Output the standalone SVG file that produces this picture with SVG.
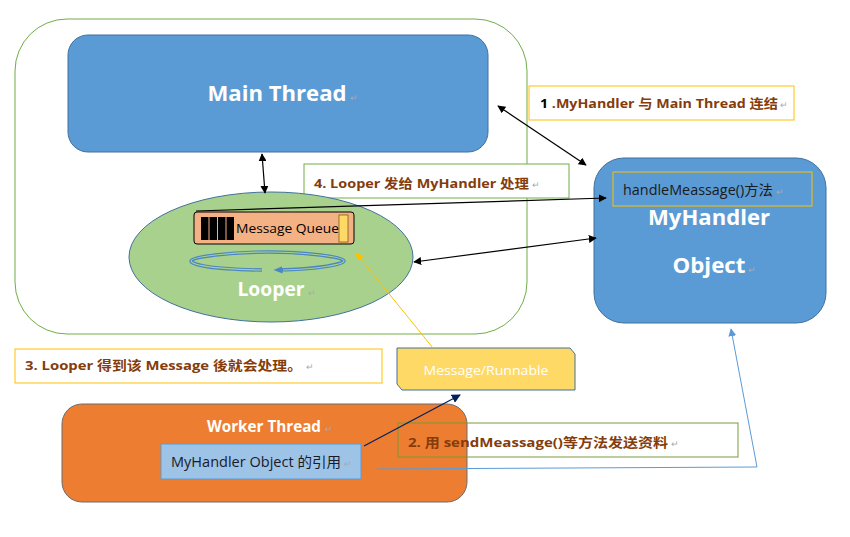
<svg xmlns="http://www.w3.org/2000/svg" width="850" height="537" viewBox="0 0 850 537">
<defs>
<style>
text{font-family:"Open Sans","Noto Sans CJK SC",sans-serif}
.lbl{font-size:13px;font-weight:bold;fill:#843C0C}
.big{font-size:22px;font-weight:bold;fill:#fff;text-anchor:middle}
.rm{font-size:9px;fill:#aaa}
.conn{fill:none;stroke:#000;stroke-width:1.2}
</style>
<marker id="ah" viewBox="0 0 10 10" refX="9" refY="5" markerWidth="8" markerHeight="8" orient="auto-start-reverse" markerUnits="userSpaceOnUse"><path d="M0,0 L10,5 L0,10 z" fill="#000"/></marker>
<marker id="ahn" viewBox="0 0 10 10" refX="9" refY="5" markerWidth="9" markerHeight="9" orient="auto" markerUnits="userSpaceOnUse"><path d="M0,0 L10,5 L0,10 z" fill="#002060"/></marker>
<marker id="ahy" viewBox="0 0 10 10" refX="9" refY="5" markerWidth="8" markerHeight="8" orient="auto" markerUnits="userSpaceOnUse"><path d="M0,0 L10,5 L0,10 z" fill="#FFC000"/></marker>
<marker id="ahb" viewBox="0 0 10 10" refX="9" refY="5" markerWidth="8" markerHeight="8" orient="auto" markerUnits="userSpaceOnUse"><path d="M0,0 L10,5 L0,10 z" fill="#5B9BD5"/></marker>
<marker id="ahl" viewBox="0 0 10 10" refX="5" refY="5" markerWidth="9" markerHeight="9" orient="auto" markerUnits="userSpaceOnUse"><path d="M0,1 L10,5 L0,9 z" fill="#4A86C5"/></marker>
</defs>
<rect width="850" height="537" fill="#fff"/>

<g id="container">
<rect x="15" y="19" width="512" height="315" rx="52" fill="none" stroke="#70AD47" stroke-width="1"/>
</g>

<g id="main-thread">
<rect x="68" y="35" width="420" height="117" rx="20" fill="#5B9BD5" stroke="#41719C" stroke-width="1"/>
<text x="277" y="101" class="big" textLength="139" lengthAdjust="spacingAndGlyphs">Main Thread</text>
<text x="350" y="101" class="rm">↵</text>
</g>

<g id="label1">
<rect x="529" y="86" width="265" height="34" fill="#fff" stroke="#FFC000" stroke-width="1"/>
<text x="540" y="108" class="lbl" textLength="238" lengthAdjust="spacingAndGlyphs"><tspan fill="#000">1</tspan> .MyHandler 与 Main Thread  连结</text>
<text x="780" y="108" class="rm">↵</text>
</g>

<g id="myhandler">
<rect x="594" y="158" width="232" height="165" rx="30" fill="#5B9BD5" stroke="#41719C" stroke-width="1"/>
<rect x="613" y="172" width="199" height="34" fill="#5B9BD5" stroke="#FFC000" stroke-width="1"/>
<text x="623" y="195" style="font-size:14px;fill:#1a1a1a" textLength="150" lengthAdjust="spacingAndGlyphs">handleMeassage()方法</text>
<text x="776" y="195" class="rm">↵</text>
<text x="709" y="225" class="big" textLength="122" lengthAdjust="spacingAndGlyphs">MyHandler</text>
<text x="709" y="273" class="big" textLength="73" lengthAdjust="spacingAndGlyphs">Object</text>
<text x="748" y="273" class="rm">↵</text>
</g>

<g id="label4">
<rect x="304" y="164" width="265" height="34" fill="#fff" stroke="#70AD47" stroke-width="1"/>
<text x="314" y="188" class="lbl" textLength="215" lengthAdjust="spacingAndGlyphs">4. Looper 发给 MyHandler  处理</text>
<text x="532" y="188" class="rm">↵</text>
</g>

<g id="looper">
<ellipse cx="271" cy="257" rx="142" ry="65" fill="#A9D18E" stroke="#41719C" stroke-width="1"/>
<path d="M262,270 C200,269 191,263 191,261 C191,257 230,252 268,252 C306,252 344,257 344,261 C344,264 320,269 278,270" fill="none" stroke="#4A86C5" stroke-width="3.5" marker-end="url(#ahl)"/>
<path d="M262,270 C200,269 191,263 191,261 C191,257 230,252 268,252 C306,252 344,257 344,261 C344,264 320,269 283,270" fill="none" stroke="#A9D18E" stroke-width="1.2"/>
<text x="271" y="296" class="big" style="font-size:20px" textLength="67" lengthAdjust="spacingAndGlyphs">Looper</text>
<text x="308" y="296" class="rm">↵</text>
</g>

<g id="message-queue">
<rect x="194" y="212" width="160" height="32" rx="3" fill="#F4B183" stroke="#000" stroke-width="1"/>
<rect x="201" y="217" width="7.5" height="23" fill="#000"/>
<rect x="209.5" y="217" width="7.5" height="23" fill="#000"/>
<rect x="218" y="217" width="7.5" height="23" fill="#000"/>
<rect x="226.5" y="217" width="7.5" height="23" fill="#000"/>
<text x="236" y="233" style="font-size:13px;fill:#000" textLength="103" lengthAdjust="spacingAndGlyphs">Message Queue</text>
<rect x="339" y="215" width="9" height="27" fill="#FFD966" stroke="#7F6000" stroke-width="0.8"/>
</g>

<g id="label3">
<rect x="15" y="349" width="367" height="34" fill="#fff" stroke="#FFC000" stroke-width="1"/>
<text x="25" y="370" class="lbl" textLength="277" lengthAdjust="spacingAndGlyphs">3. Looper  得到该 Message 後就会处理。</text>
<text x="306" y="370" class="rm">↵</text>
</g>

<g id="message-runnable">
<path d="M397,348 L570,348 L575,354 L575,390 L402,390 L397,384 Z" fill="#FFD966" stroke="#41719C" stroke-width="1"/>
<text x="486" y="375" style="font-size:13px;fill:#fff;text-anchor:middle" textLength="125" lengthAdjust="spacingAndGlyphs">Message/Runnable</text>
</g>

<g id="worker-thread">
<rect x="62" y="404" width="405" height="98" rx="20" fill="#ED7D31" stroke="#6d6d6d" stroke-width="1"/>
<text x="264" y="432" class="big" style="font-size:16px" textLength="114" lengthAdjust="spacingAndGlyphs">Worker Thread</text>
<text x="325" y="432" class="rm">↵</text>
<rect x="161" y="444" width="200" height="35" fill="#9DC3E6" stroke="#5B9BD5" stroke-width="1"/>
<text x="171" y="467" style="font-size:14px;fill:#1a1a2a" textLength="170" lengthAdjust="spacingAndGlyphs">MyHandler Object 的引用</text>
<text x="344" y="467" class="rm">↵</text>
</g>

<g id="label2">
<rect x="398" y="423" width="340" height="34" fill="none" stroke="#7A9A3A" stroke-width="1"/>
<text x="408" y="447" class="lbl" textLength="260" lengthAdjust="spacingAndGlyphs">2.  用 sendMeassage()等方法发送资料</text>
<text x="671" y="447" class="rm">↵</text>
</g>

<g id="connectors">
<line x1="498" y1="106" x2="586" y2="165" class="conn" marker-start="url(#ah)" marker-end="url(#ah)"/>
<line x1="262" y1="154" x2="265" y2="193" class="conn" marker-start="url(#ah)" marker-end="url(#ah)"/>
<line x1="196" y1="211" x2="606" y2="198" class="conn" marker-end="url(#ah)"/>
<line x1="414" y1="262" x2="596" y2="238" class="conn" marker-start="url(#ah)" marker-end="url(#ah)"/>
<line x1="433" y1="348" x2="356" y2="253" stroke="#FFC000" stroke-width="1" marker-end="url(#ahy)"/>
<line x1="364" y1="446" x2="460" y2="395" stroke="#002060" stroke-width="1.2" marker-end="url(#ahn)"/>
<polyline points="377,469 757,467 731,329" fill="none" stroke="#5B9BD5" stroke-width="1" marker-end="url(#ahb)"/>
</g>
</svg>
